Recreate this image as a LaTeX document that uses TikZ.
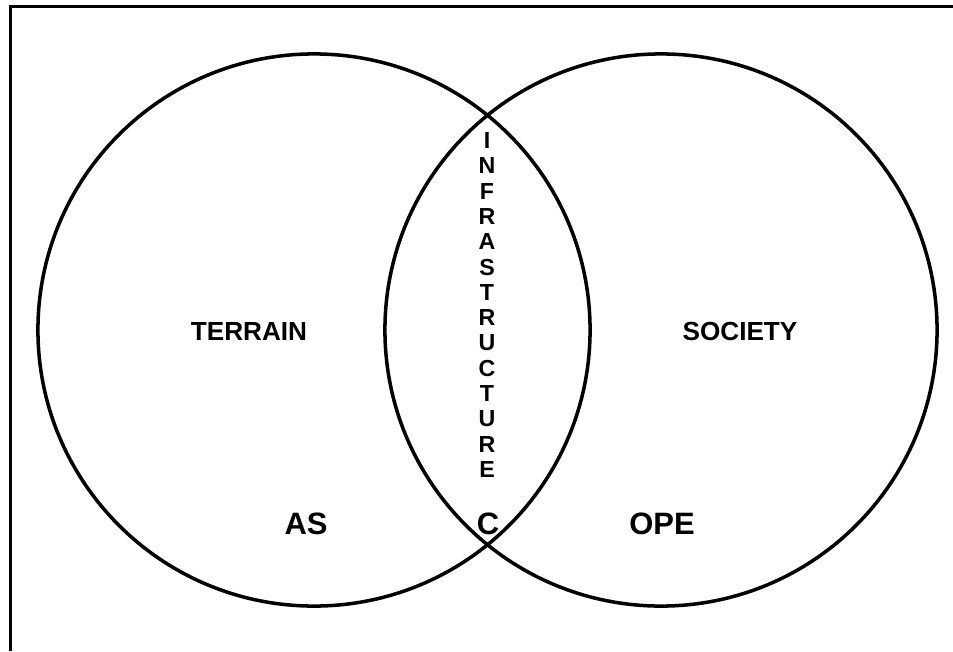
\documentclass[tikz,border=0pt]{standalone}
\usepackage{fontspec}
\setmainfont{Liberation Sans}
\usepackage{tikz}
\usetikzlibrary{positioning}

\begin{document}
\begin{tikzpicture}[
  x=0.025cm, y=-0.025cm,
  every node/.style={inner sep=0pt},
  ring/.style={circle, draw, line width=2.5pt, minimum size=13.8cm},
  field/.style={font=\fontsize{18.6}{22}\selectfont\bfseries},
  corner/.style={font=\fontsize{22}{26}\selectfont\bfseries},
  stack/.style={align=center, font=\fontsize{16.5}{18}\selectfont\bfseries},
  frame/.style={line width=2pt},
]
\useasboundingbox (0,0) rectangle (953,651);
% page frame (top and left edges only)
\draw[frame] (953,6.5) -- (10.5,6.5) -- (10.5,651);
% the two rings
\node[ring] (terrain) at (314,330) {};
\node[ring] (society) at (661,330) {};
% labels
\node[field] (terrainlbl) at (249,331) {TERRAIN};
\node[field] (societylbl) at (740,331) {SOCIETY};
\node[stack] (infra) at (487,305)
  {I\\N\\F\\R\\A\\S\\T\\R\\U\\C\\T\\U\\R\\E};
\node[corner] (as)  at (306,524) {AS};
\node[corner] (c)   at (488,524) {C};
\node[corner] (ope) at (662,524) {OPE};
\end{tikzpicture}
\end{document}
